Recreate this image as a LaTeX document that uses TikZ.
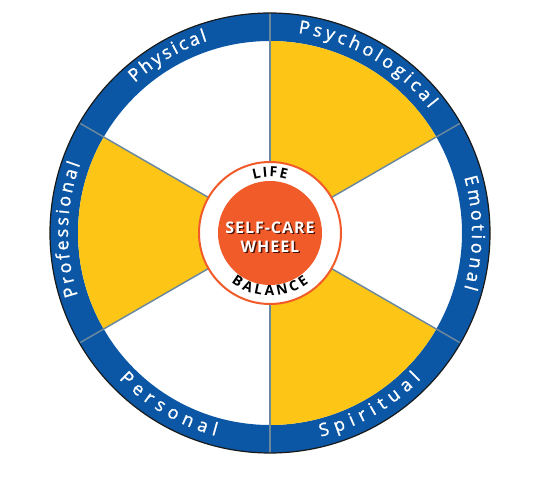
\documentclass[tikz,border=0pt]{standalone}
\usepackage{fontspec}
\setmainfont{Open Sans}
\newfontfamily\ringfont[FakeBold=1.2]{Open Sans}
\newfontfamily\hubfont[LetterSpace=6]{Open Sans}
\usetikzlibrary{decorations.text}

\definecolor{ringblue}{HTML}{0B57A5}
\definecolor{wedgeyellow}{HTML}{FDC516}
\definecolor{hubred}{HTML}{F15A29}
\definecolor{spokegray}{HTML}{6A889E}
\definecolor{shadowred}{HTML}{4A1508}

\tikzset{
  spoke/.style={spokegray,line width=1.1pt},
  ringlabel/.style={decorate,decoration={text along path,text align={fit to path},
      text={|\ringfont\fontsize{13.5}{15}\selectfont\color{white}|#1}}},
  hublabel/.style={decorate,decoration={text along path,text align={fit to path},
      text={|\hubfont\bfseries\fontsize{10.5}{12}\selectfont|#1}}},
  hubtext/.style={align=center,font=\hubfont\bfseries\fontsize{12}{14.3}\selectfont,inner sep=0pt}
}

\begin{document}
\begin{tikzpicture}[x=0.75pt,y=0.75pt]

\useasboundingbox (-270,-244) rectangle (265,233);

\fill[ringblue,even odd rule] (0,0) circle[radius=220] (0,0) circle[radius=192];
\foreach \a in {30,150,270}
  \fill[wedgeyellow] (0,0) -- (\a:192) arc[start angle=\a,end angle=\a+60,radius=192] -- cycle;

\foreach \a in {30,90,...,330}
  \draw[spoke] (0,0) -- (\a:220);
\draw[line width=0.9pt,black!90] (0,0) circle[radius=220];

\path[ringlabel=Physical] (132:202) arc[start angle=132,end angle=108,radius=202];
\path[ringlabel=Psychological] (82:202) arc[start angle=82,end angle=38,radius=202];
\path[ringlabel=Emotional] (16:202) arc[start angle=16,end angle=-16,radius=202];
\path[ringlabel=Professional] (198:202) arc[start angle=198,end angle=160,radius=202];
\path[ringlabel=Personal] (-136:210) arc[start angle=-136,end angle=-105,radius=210];
\path[ringlabel=Spiritual] (-76:210) arc[start angle=-76,end angle=-44,radius=210];

\fill[white,draw=hubred,line width=1.5pt] (0,0) circle[radius=71];
\fill[hubred] (0,0) circle[radius=52];

\path[hublabel=LIFE] (107:56) arc[start angle=107,end angle=73,radius=56];
\path[hublabel=BALANCE] (-128:63) arc[start angle=-128,end angle=-52,radius=63];

\node[hubtext,text=shadowred] (titleshadow) at (1.5,-5.5) {SELF-CARE\\WHEEL};
\node[hubtext,text=white] (title) at (0,-4) {SELF-CARE\\WHEEL};

\end{tikzpicture}
\end{document}
